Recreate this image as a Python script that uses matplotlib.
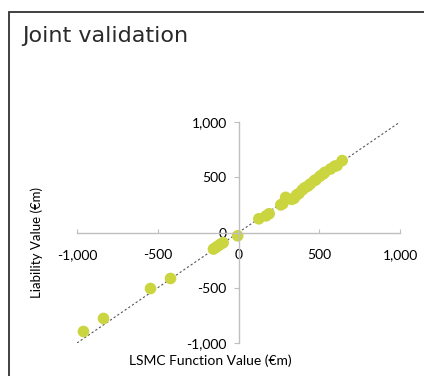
import matplotlib
matplotlib.use("Agg")
import matplotlib.pyplot as plt
from matplotlib.patches import Rectangle
from matplotlib.ticker import FuncFormatter

# LSMC function value vs liability value (EUR m)
lsmc_values = [-960, -836, -545, -421, -155, -140, -125, -110, -95, -5,
               126, 170, 190, 262, 275, 292, 330, 345, 360, 374, 395,
               410, 430, 445, 470, 480, 505, 525, 535, 570, 595, 610, 642]
liability_values = [-896, -778, -507, -416, -150, -135, -120, -105, -92, -30,
                    124, 150, 170, 250, 262, 318, 300, 310, 340, 352, 385,
                    405, 420, 440, 470, 478, 510, 530, 545, 575, 600, 605, 651]
ref_line = [-1000, 1000]
ticks = [-1000, -500, 0, 500, 1000]

fig = plt.figure(figsize=(4.24, 3.76), dpi=100)

# frame round the slide panel
fig.patches.append(Rectangle((9 / 424, -0.1), 1.2, (376 - 12) / 376 + 0.1,
                             transform=fig.transFigure, fill=False,
                             edgecolor="#333333", linewidth=1.3))
fig.text(22 / 424, 1 - 36 / 376, "Joint validation", fontsize=16,
         color="#2a2a2a", va="center", ha="left")

ax = fig.add_axes([77 / 424, 33 / 376, 323 / 424, 221 / 376])
ax.plot(ref_line, ref_line, linestyle=(0, (2, 2)), color="#555555",
        linewidth=0.8, zorder=1)
ax.scatter(lsmc_values, liability_values, s=70, color="#cbd540",
           edgecolors="none", zorder=2)

ax.set_xlim(-1000, 1000)
ax.set_ylim(-1000, 1000)
for side in ["top", "right"]:
    ax.spines[side].set_visible(False)
ax.spines["left"].set_position(("data", 0))
ax.spines["bottom"].set_position(("data", 0))
for side in ["left", "bottom"]:
    ax.spines[side].set_color("#bfbfbf")
    ax.spines[side].set_linewidth(1)

fmt = FuncFormatter(lambda v, p: f"{int(v):,}")
ax.set_xticks(ticks)
ax.set_yticks(ticks)
ax.xaxis.set_major_formatter(fmt)
ax.yaxis.set_major_formatter(fmt)
ax.tick_params(axis="both", color="#bfbfbf", labelsize=10,
               labelcolor="#000000")
ax.tick_params(axis="x", direction="in", length=3, pad=12)
ax.tick_params(axis="y", direction="out", length=3.5, pad=5)
for lab in ax.get_xticklabels() + ax.get_yticklabels():
    lab.set_family("Lato")

fig.text(210 / 424, 1 - 361 / 376, "LSMC Function Value (\u20acm)",
         fontsize=10, family="Lato", ha="center", va="center")
fig.text(37 / 424, 1 - 243 / 376, "Liability Value (\u20acm)",
         fontsize=9.5, family="Lato", ha="center", va="center", rotation=90)

fig.savefig("out.png", dpi=100)
